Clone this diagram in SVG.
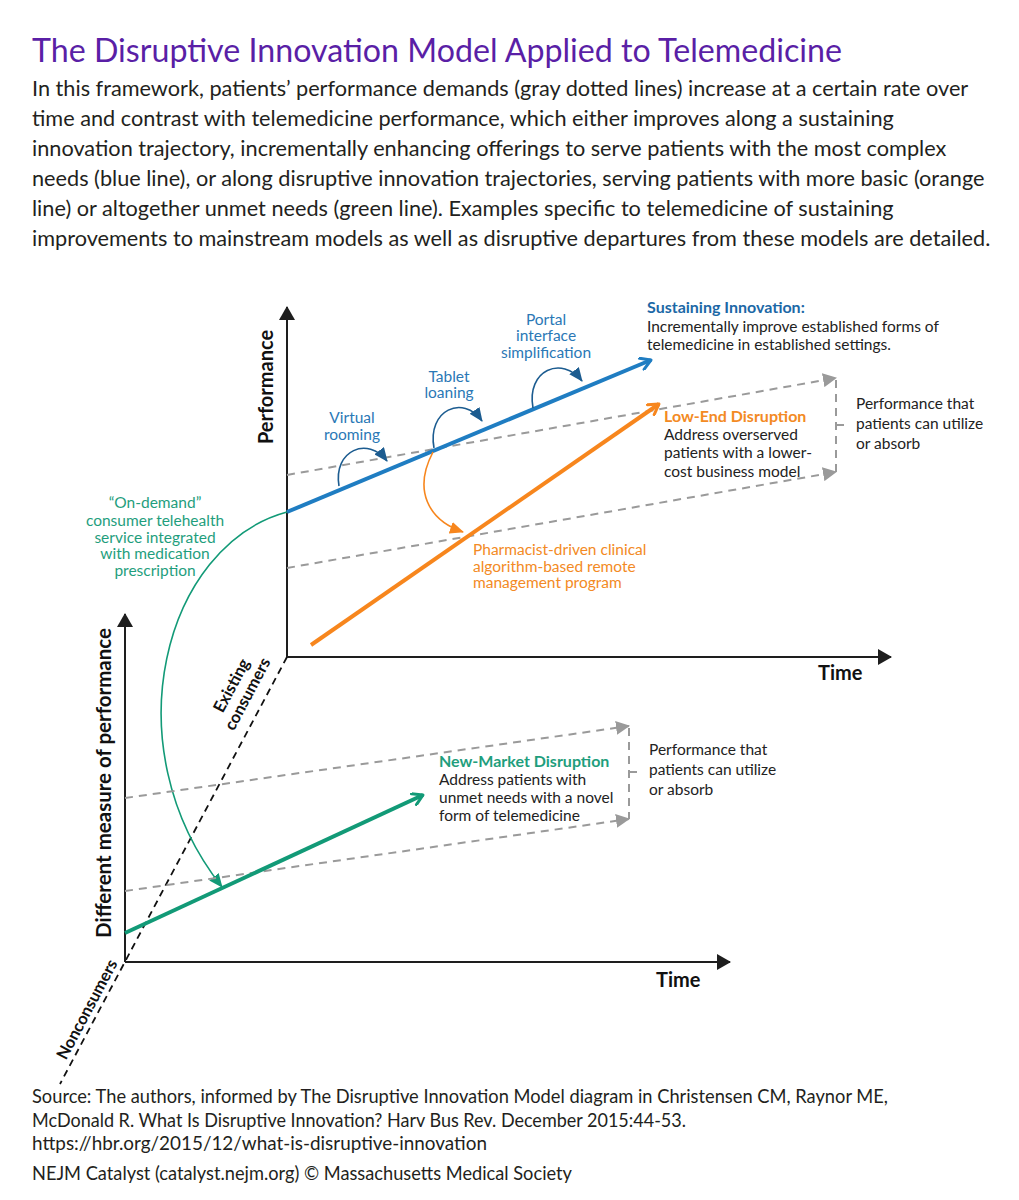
<svg xmlns="http://www.w3.org/2000/svg" width="1019" height="1200" viewBox="0 0 1019 1200">
  <style>
    .body { font-family: Lato, "Noto Sans", sans-serif; font-size: 21.7px; fill: #231f20; }
    .title { font-family: Lato, "Noto Sans", sans-serif; font-size: 32.2px; fill: #5a1fa6; }
    .lbl { font-family: Lato, "Noto Sans", sans-serif; font-size: 15.5px; fill: #222; }
    .ax { font-family: Lato, "Noto Sans", sans-serif; font-size: 20px; font-weight: bold; fill: #111; }
    .axs { font-family: Lato, "Noto Sans", sans-serif; font-size: 16.5px; font-weight: bold; fill: #111; }
    .foot { font-family: Lato, "Noto Sans", sans-serif; font-size: 20px; fill: #231f20; }
    .b { font-weight: bold; font-size: 16px; }
    .blueT { fill: #2a78b6; }
    .blueH { fill: #1c68a6; }
    .orT { fill: #f38a24; }
    .grT { fill: #1f9e7d; }
    .axis { stroke: #1e1e1e; stroke-width: 2; fill: none; }
    .gdash { stroke: #9a9a9a; stroke-width: 2; stroke-dasharray: 8 6; fill: none; }
    .kdash { stroke: #111; stroke-width: 1.8; stroke-dasharray: 7 5; fill: none; }
    .blue { stroke: #1f7dc2; stroke-width: 4; fill: none; }
    .orange { stroke: #f7861d; stroke-width: 4; fill: none; }
    .green { stroke: #129a77; stroke-width: 4; fill: none; }
    .curveB { stroke: #1c5c90; stroke-width: 1.6; fill: none; }
    .curveO { stroke: #f7861d; stroke-width: 1.6; fill: none; }
    .curveG { stroke: #129a77; stroke-width: 1.6; fill: none; }
  </style>
  <defs>
    <marker id="axHead" viewBox="0 0 14 16" refX="13" refY="8" markerWidth="14" markerHeight="16" markerUnits="userSpaceOnUse" orient="auto">
      <path d="M0,0 L14,8 L0,16 Z" fill="#1e1e1e"/>
    </marker>
    <marker id="grayHead" viewBox="0 0 14 14" refX="13" refY="7" markerWidth="14" markerHeight="14" markerUnits="userSpaceOnUse" orient="auto">
      <path d="M0,0 L14,7 L0,14 Z" fill="#9a9a9a"/>
    </marker>
    <marker id="blueV" viewBox="0 0 14 14" refX="12" refY="7" markerWidth="14" markerHeight="14" markerUnits="userSpaceOnUse" orient="auto">
      <path d="M2,1 L12,7 L2,13" fill="none" stroke="#1f7dc2" stroke-width="3" stroke-linecap="round" stroke-linejoin="round"/>
    </marker>
    <marker id="orangeV" viewBox="0 0 14 14" refX="12" refY="7" markerWidth="14" markerHeight="14" markerUnits="userSpaceOnUse" orient="auto">
      <path d="M2,1 L12,7 L2,13" fill="none" stroke="#f7861d" stroke-width="3" stroke-linecap="round" stroke-linejoin="round"/>
    </marker>
    <marker id="greenV" viewBox="0 0 14 14" refX="12" refY="7" markerWidth="14" markerHeight="14" markerUnits="userSpaceOnUse" orient="auto">
      <path d="M2,1 L12,7 L2,13" fill="none" stroke="#129a77" stroke-width="3" stroke-linecap="round" stroke-linejoin="round"/>
    </marker>
    <marker id="triB" viewBox="0 0 14 12" refX="13" refY="6" markerWidth="14" markerHeight="12" markerUnits="userSpaceOnUse" orient="auto">
      <path d="M0,0 L14,6 L0,12 Z" fill="#1c5c90"/>
    </marker>
    <marker id="triO" viewBox="0 0 14 12" refX="13" refY="6" markerWidth="14" markerHeight="12" markerUnits="userSpaceOnUse" orient="auto">
      <path d="M0,0 L14,6 L0,12 Z" fill="#f7861d"/>
    </marker>
    <marker id="triG" viewBox="0 0 14 12" refX="13" refY="6" markerWidth="14" markerHeight="12" markerUnits="userSpaceOnUse" orient="auto">
      <path d="M0,0 L14,6 L0,12 Z" fill="#129a77"/>
    </marker>
  </defs>

  <rect width="1019" height="1200" fill="#ffffff"/>

  <g id="title">
    <text class="title" x="32" y="62">The Disruptive Innovation Model Applied to Telemedicine</text>
  </g>

  <g id="description">
    <text class="body" x="32" y="96">In this framework, patients’ performance demands (gray dotted lines) increase at a certain rate over</text>
    <text class="body" x="32" y="126">time and contrast with telemedicine performance, which either improves along a sustaining</text>
    <text class="body" x="32" y="156">innovation trajectory, incrementally enhancing offerings to serve patients with the most complex</text>
    <text class="body" x="32" y="186">needs (blue line), or along disruptive innovation trajectories, serving patients with more basic (orange</text>
    <text class="body" x="32" y="216">line) or altogether unmet needs (green line). Examples specific to telemedicine of sustaining</text>
    <text class="body" x="32" y="246">improvements to mainstream models as well as disruptive departures from these models are detailed.</text>
  </g>

  <g id="connectors">
    <!-- consumer dimension dashed line -->
    <line class="kdash" x1="287" y1="657" x2="60" y2="1084"/>
    <!-- top chart axes -->
    <line class="axis" x1="287" y1="657" x2="287" y2="307" marker-end="url(#axHead)"/>
    <line class="axis" x1="287" y1="657" x2="891" y2="657" marker-end="url(#axHead)"/>
    <!-- top demand lines -->
    <line class="gdash" x1="287" y1="475" x2="836" y2="378" marker-end="url(#grayHead)"/>
    <line class="gdash" x1="287" y1="568" x2="836" y2="472" marker-end="url(#grayHead)"/>
    <path class="gdash" d="M836,380 L836,472 M836,425 L850,425"/>
    <!-- sustaining -->
    <line class="blue" x1="287" y1="512" x2="651" y2="360" marker-end="url(#blueV)"/>
    <path class="curveB" d="M339,486 C333,450 368,436 387,461" marker-end="url(#triB)"/>
    <path class="curveB" d="M434,448 C427,410 463,394 482,421" marker-end="url(#triB)"/>
    <path class="curveB" d="M533,408 C526,370 562,355 582,381" marker-end="url(#triB)"/>
    <!-- low-end -->
    <line class="orange" x1="311" y1="645" x2="659" y2="404" marker-end="url(#orangeV)"/>
    <path class="curveO" d="M433,452 C413,490 428,520 463,532" marker-end="url(#triO)"/>
    <!-- on-demand curve -->
    <path class="curveG" d="M287,512 C165,545 110,745 222,887" marker-end="url(#triG)"/>
    <!-- bottom chart axes -->
    <line class="axis" x1="125" y1="962" x2="125" y2="614" marker-end="url(#axHead)"/>
    <line class="axis" x1="125" y1="962" x2="730" y2="962" marker-end="url(#axHead)"/>
    <!-- bottom demand lines -->
    <line class="gdash" x1="125" y1="798" x2="629" y2="726" marker-end="url(#grayHead)"/>
    <line class="gdash" x1="125" y1="891" x2="629" y2="819" marker-end="url(#grayHead)"/>
    <path class="gdash" d="M629,728 L629,819 M629,772 L641,772"/>
    <!-- new-market -->
    <line class="green" x1="125" y1="933" x2="423" y2="795" marker-end="url(#greenV)"/>
  </g>

  <g id="axis-labels">
    <text class="ax" text-anchor="middle" transform="translate(273,387) rotate(-90)">Performance</text>
    <text class="ax" x="818" y="680">Time</text>
    <text class="ax" text-anchor="middle" style="font-size:20.5px" transform="translate(111,783) rotate(-90)">Different measure of performance</text>
    <text class="ax" x="656" y="987">Time</text>
  </g>

  <g id="existing-consumers">
    <text class="axs" text-anchor="middle" transform="translate(240,690) rotate(-62)"><tspan x="0" y="-4">Existing</tspan><tspan x="0" y="14">consumers</tspan></text>
  </g>
  <g id="nonconsumers">
    <text class="axs" text-anchor="middle" transform="translate(92,1012) rotate(-62)">Nonconsumers</text>
  </g>

  <g id="virtual-rooming">
    <text class="lbl blueT" text-anchor="middle"><tspan x="352" y="423">Virtual</tspan><tspan x="352" y="440">rooming</tspan></text>
  </g>
  <g id="tablet-loaning">
    <text class="lbl blueT" text-anchor="middle"><tspan x="449" y="382">Tablet</tspan><tspan x="449" y="398">loaning</tspan></text>
  </g>
  <g id="portal-interface">
    <text class="lbl blueT" text-anchor="middle"><tspan x="546" y="325">Portal</tspan><tspan x="546" y="341">interface</tspan><tspan x="546" y="358">simplification</tspan></text>
  </g>

  <g id="sustaining-innovation">
    <text class="lbl"><tspan class="b blueH" x="647" y="313">Sustaining Innovation:</tspan><tspan x="647" y="332">Incrementally improve established forms of</tspan><tspan x="647" y="350">telemedicine in established settings.</tspan></text>
  </g>

  <g id="low-end-disruption">
    <text class="lbl"><tspan class="b orT" x="664" y="422">Low-End Disruption</tspan><tspan x="664" y="440">Address overserved</tspan><tspan x="664" y="458">patients with a lower-</tspan><tspan x="664" y="477">cost business model</tspan></text>
  </g>

  <g id="top-absorb">
    <text class="lbl"><tspan x="856" y="409">Performance that</tspan><tspan x="856" y="429">patients can utilize</tspan><tspan x="856" y="449">or absorb</tspan></text>
  </g>

  <g id="pharmacist">
    <text class="lbl orT"><tspan x="473" y="555">Pharmacist-driven clinical</tspan><tspan x="473" y="572">algorithm-based remote</tspan><tspan x="473" y="588">management program</tspan></text>
  </g>

  <g id="on-demand">
    <text class="lbl grT" text-anchor="middle"><tspan x="155" y="508">“On-demand”</tspan><tspan x="155" y="526">consumer telehealth</tspan><tspan x="155" y="543">service integrated</tspan><tspan x="155" y="559">with medication</tspan><tspan x="155" y="576">prescription</tspan></text>
  </g>

  <g id="new-market-disruption">
    <text class="lbl"><tspan class="b grT" x="439" y="767">New-Market Disruption</tspan><tspan x="439" y="785">Address patients with</tspan><tspan x="439" y="803">unmet needs with a novel</tspan><tspan x="439" y="821">form of telemedicine</tspan></text>
  </g>

  <g id="bottom-absorb">
    <text class="lbl"><tspan x="649" y="755">Performance that</tspan><tspan x="649" y="775">patients can utilize</tspan><tspan x="649" y="795">or absorb</tspan></text>
  </g>

  <g id="footer">
    <text class="foot" x="32" y="1103" textLength="856" lengthAdjust="spacingAndGlyphs">Source: The authors, informed by The Disruptive Innovation Model diagram in Christensen CM, Raynor ME,</text>
    <text class="foot" x="32" y="1127" textLength="654" lengthAdjust="spacingAndGlyphs">McDonald R. What Is Disruptive Innovation? Harv Bus Rev. December 2015:44-53.</text>
    <text class="foot" x="32" y="1150" textLength="455" lengthAdjust="spacingAndGlyphs">https://hbr.org/2015/12/what-is-disruptive-innovation</text>
    <text class="foot" x="32" y="1180" textLength="540" lengthAdjust="spacingAndGlyphs">NEJM Catalyst (catalyst.nejm.org) © Massachusetts Medical Society</text>
  </g>
</svg>
